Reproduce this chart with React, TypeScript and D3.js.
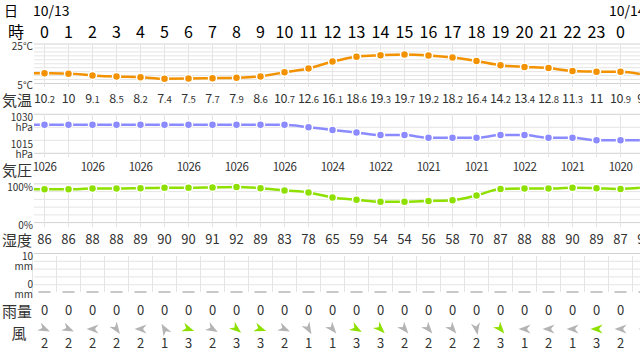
import { useRef, useEffect } from "react"
import * as d3 from "d3"

// hour labels for columns 0..25 (column 25 is cut off by the right edge)
const hourLabels = ["0", "1", "2", "3", "4", "5", "6", "7", "8", "9", "10", "11", "12", "13", "14", "15", "16", "17", "18", "19", "20", "21", "22", "23", "0", "1"]
const dateColumns = [0, 24]
const dateTexts = ["10/13", "10/14"]

// series values: first entry is the hour before column 0 (only the line stub at the left edge shows)
const temperature = [10.3, 10.2, 10, 9.1, 8.5, 8.2, 7.4, 7.5, 7.7, 7.9, 8.6, 10.7, 12.6, 16.1, 18.6, 19.3, 19.7, 19.2, 18.2, 16.4, 14.2, 13.4, 12.8, 11.3, 11, 10.9, 9.5]
const pressure = [1026, 1026, 1026, 1026, 1026, 1026, 1026, 1026, 1026, 1026, 1026, 1026, 1025, 1024, 1023, 1022, 1022, 1021, 1021, 1021, 1022, 1022, 1021, 1021, 1020, 1020, 1020]
const humidity = [86, 86, 86, 88, 88, 89, 90, 90, 91, 92, 89, 83, 78, 65, 59, 54, 54, 56, 58, 70, 87, 88, 88, 90, 89, 87, 91]
// rain, wind: columns 0..25
const rain = [0, 0, 0, 0, 0, 0, 0, 0, 0, 0, 0, 0, 0, 0, 0, 0, 0, 0, 0, 0, 0, 0, 0, 0, 0, 0]
const windSpeed = [2, 2, 2, 2, 2, 1, 3, 2, 3, 3, 2, 1, 1, 3, 3, 2, 2, 2, 2, 3, 1, 2, 1, 3, 2, 2]
// direction the arrow points, degrees clockwise from "right"
const windDir = [25, 25, 180, 55, 180, -120, 20, 30, 40, 20, 25, 60, 50, 30, 45, 50, 50, 50, 80, 50, 180, 180, 180, 180, 180, 180]

const FONT = "'Noto Sans CJK JP', 'Noto Sans', sans-serif"
const TEXT = "#333"
const GRID = "#e4e4e4"
const GRID_EDGE = "#d2d2d2"
const ORANGE = "#f39200"
const PURPLE = "#8b8bff"
const GREEN = "#8ee000"
const GREY_ARROW = "#b4b4b4"

export default function App() {
  const svgRef = useRef<SVGSVGElement>(null)

  useEffect(() => {
    if (!svgRef.current) return
    const svg = d3.select(svgRef.current)
    svg.selectAll("*").remove()

    const width = 640
    const left = 34

    const x = d3.scaleLinear().domain([0, 25]).range([44.5, 644.5])
    const cols = d3.range(0, 26)
    const idx = d3.range(-1, 26) // data index incl. the leading hour

    svg.append("clipPath").attr("id", "plot").append("rect").attr("x", left).attr("y", 0).attr("width", width - left).attr("height", 354)

    // header rows
    svg.append("text").attr("x", 11).attr("y", 10).attr("font-size", 14).attr("text-anchor", "middle").attr("dominant-baseline", "central").text("日")
    dateColumns.forEach((c, i) => {
      svg.append("text").attr("x", x(c) - 11.5).attr("y", 10).attr("font-size", 14).attr("dominant-baseline", "central").text(dateTexts[i])
    })
    svg.append("text").attr("x", 16).attr("y", 31).attr("font-size", 16).attr("text-anchor", "middle").attr("dominant-baseline", "central").text("時")
    svg.append("g").selectAll("text").data(cols).join("text")
      .attr("x", (d) => x(d)).attr("y", 31).attr("font-size", 16).attr("text-anchor", "middle").attr("dominant-baseline", "central")
      .text((d) => hourLabels[d])

    // generic line panel
    const panel = (
      values: number[],
      y: d3.ScaleLinear<number, number>,
      gridValues: number[],
      vTop: number,
      vBottom: number,
      color: string,
    ) => {
      const g = svg.append("g")
      const [lo, hi] = y.domain()
      g.selectAll("line.h").data(gridValues).join("line").attr("class", "h")
        .attr("x1", left).attr("x2", width).attr("y1", (d) => y(d)).attr("y2", (d) => y(d))
        .attr("stroke", (d) => (d === lo || d === hi ? GRID_EDGE : GRID)).attr("stroke-width", 1)
      g.selectAll("line.v").data(cols).join("line").attr("class", "v")
        .attr("x1", (d) => x(d)).attr("x2", (d) => x(d)).attr("y1", vTop).attr("y2", vBottom)
        .attr("stroke", GRID).attr("stroke-width", 1)

      const line = d3.line<number>().x((d) => x(d)).y((d, i) => y(values[i])).curve(d3.curveMonotoneX)
      const pg = g.append("g").attr("clip-path", "url(#plot)")
      pg.append("path").datum(idx).attr("d", line).attr("fill", "none").attr("stroke", color).attr("stroke-width", 2.5)
      pg.selectAll("circle").data(cols).join("circle")
        .attr("cx", (d) => x(d)).attr("cy", (d) => y(values[d + 1])).attr("r", 4)
        .attr("fill", color).attr("stroke", "#fff").attr("stroke-width", 1.5)
      return g
    }

    const axisLabel = (text: string, yy: number) =>
      svg.append("text").attr("x", 33).attr("y", yy).attr("font-size", 10).attr("text-anchor", "end")
        .attr("dominant-baseline", "central").attr("fill", TEXT).text(text)

    const rowLabel = (text: string, yy: number, cx = 17) =>
      svg.append("text").attr("x", cx).attr("y", yy).attr("font-size", 15).attr("text-anchor", "middle")
        .attr("dominant-baseline", "central").attr("fill", TEXT).text(text)

    // temperature
    const yT = d3.scaleLinear().domain([5, 25]).range([83.5, 44])
    panel(temperature, yT, d3.range(5, 26, 2), 44, 87, ORANGE)
    axisLabel("25°C", 45.5)
    axisLabel("5°C", 84)
    rowLabel("気温", 99)
    const tl = svg.append("g").selectAll("text").data(cols).join("text")
      .attr("x", (d) => x(d)).attr("y", 102.5).attr("text-anchor", "middle").attr("fill", TEXT)
    tl.each(function (d) {
      const [a, b] = String(temperature[d + 1]).split(".")
      const t = d3.select(this)
      t.append("tspan").attr("font-size", 12.5).attr("letter-spacing", -0.3).text(a)
      if (b) t.append("tspan").attr("font-size", 9.5).text("." + b)
    })

    // pressure
    const yP = d3.scaleLinear().domain([1015, 1030]).range([153.3, 114.3])
    panel(pressure, yP, d3.range(1015, 1031, 5), 114, 157, PURPLE)
    axisLabel("1030", 116)
    axisLabel("hPa", 126)
    axisLabel("1015", 143.5)
    axisLabel("hPa", 153)
    rowLabel("気圧", 169)
    svg.append("g").selectAll("text").data(cols.filter((d) => d % 2 === 0)).join("text")
      .attr("x", (d) => x(d)).attr("y", 166).attr("font-size", 11.5).attr("letter-spacing", -0.5)
      .attr("text-anchor", "middle").attr("dominant-baseline", "central").attr("fill", TEXT)
      .text((d) => pressure[d + 1])

    // humidity
    const yH = d3.scaleLinear().domain([0, 100]).range([222.6, 183.9])
    panel(humidity, yH, d3.range(0, 101, 20), 184, 227, GREEN)
    axisLabel("100%", 186.5)
    axisLabel("0%", 224)
    rowLabel("湿度", 239.5)
    svg.append("g").selectAll("text").data(cols).join("text")
      .attr("x", (d) => x(d)).attr("y", 238.5).attr("font-size", 13)
      .attr("text-anchor", "middle").attr("dominant-baseline", "central").attr("fill", TEXT)
      .text((d) => humidity[d + 1])

    // rain
    const yR = d3.scaleLinear().domain([0, 10]).range([292.5, 253.5])
    const rg = svg.append("g")
    rg.selectAll("line.h").data(d3.range(2, 11, 2)).join("line").attr("class", "h")
      .attr("x1", left).attr("x2", width).attr("y1", (d) => yR(d)).attr("y2", (d) => yR(d))
      .attr("stroke", (d) => (d === 10 ? GRID_EDGE : GRID))
    rg.selectAll("line.v").data(cols).join("line").attr("class", "v")
      .attr("x1", (d) => x(d) - 12).attr("x2", (d) => x(d) - 12).attr("y1", 256).attr("y2", 292)
      .attr("stroke", GRID)
    rg.selectAll("rect").data(cols).join("rect")
      .attr("x", (d) => x(d) - 6).attr("width", 12)
      .attr("y", (d) => yR(rain[d]) - 1.5).attr("height", (d) => Math.max(2, yR(0) - yR(rain[d]) + 2))
      .attr("fill", "#c8c8c8")
    axisLabel("10", 255)
    axisLabel("mm", 265)
    axisLabel("0", 283.5)
    axisLabel("mm", 293)
    rowLabel("雨量", 310)
    svg.append("g").selectAll("text").data(cols).join("text")
      .attr("x", (d) => x(d)).attr("y", 309.5).attr("font-size", 13)
      .attr("text-anchor", "middle").attr("dominant-baseline", "central").attr("fill", TEXT)
      .text((d) => rain[d])

    // wind
    rowLabel("風", 332.5, 19)
    svg.append("g").selectAll("path").data(cols).join("path")
      .attr("d", "M6,0 L-6,-4.5 L-2.5,0 L-6,4.5 Z")
      .attr("transform", (d) => `translate(${x(d)},329) rotate(${windDir[d]})`)
      .attr("fill", (d) => (windSpeed[d] >= 3 ? GREEN : GREY_ARROW))
    svg.append("g").selectAll("text").data(cols).join("text")
      .attr("x", (d) => x(d)).attr("y", 342).attr("font-size", 13)
      .attr("text-anchor", "middle").attr("dominant-baseline", "central").attr("fill", TEXT)
      .text((d) => windSpeed[d])
  }, [])

  return (
    <svg
      ref={svgRef}
      width={640}
      height={354}
      style={{ position: "absolute", left: 0, top: 0, background: "#fff", fontFamily: FONT }}
    />
  )
}
